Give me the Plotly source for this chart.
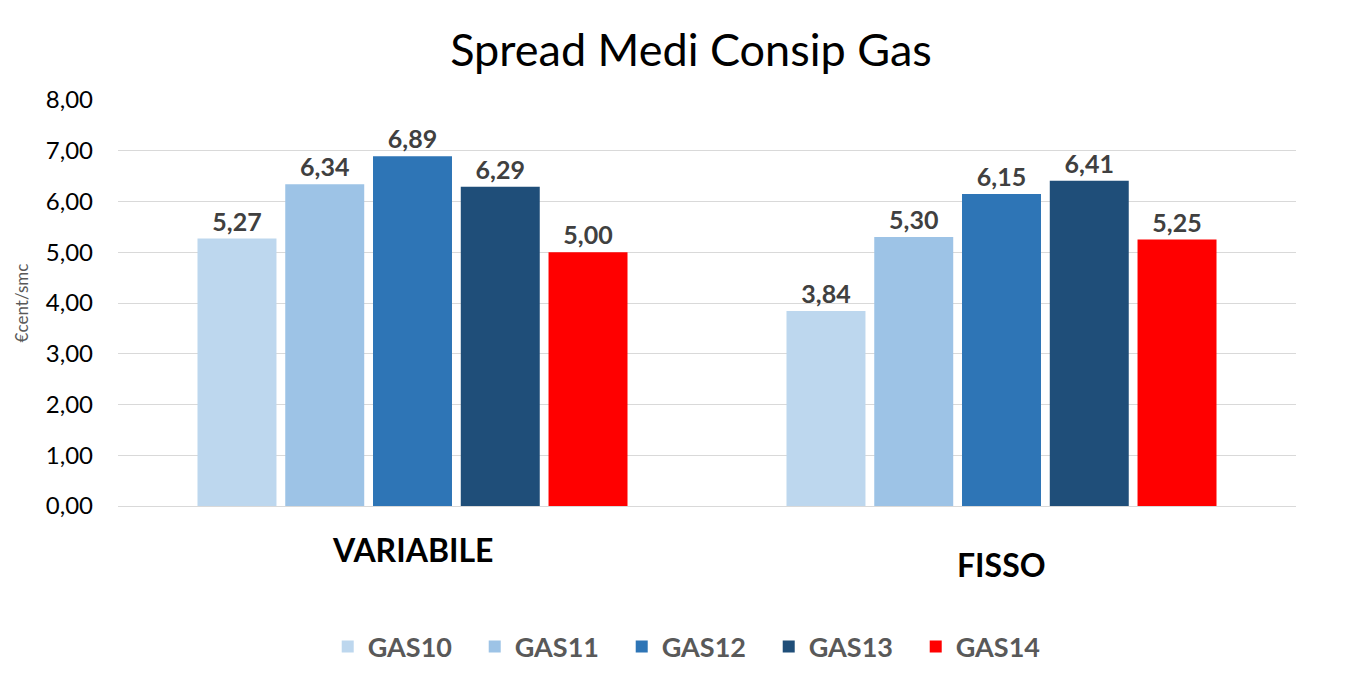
import plotly.graph_objects as go

categories = ["VARIABILE", "FISSO"]
series_names = ["GAS10", "GAS11", "GAS12", "GAS13", "GAS14"]
gas10 = [5.27, 3.84]
gas11 = [6.34, 5.30]
gas12 = [6.89, 6.15]
gas13 = [6.29, 6.41]
gas14 = [5.00, 5.25]
values = [gas10, gas11, gas12, gas13, gas14]
colors = ["#BDD7EE", "#9DC3E6", "#2E75B6", "#1F4E79", "#FF0000"]
yticks = [0, 1, 2, 3, 4, 5, 6, 7, 8]

font_family = "Lato, 'Open Sans', sans-serif"

fig = go.Figure()
for name, vals, col in zip(series_names, values, colors):
    fig.add_trace(go.Bar(
        x=categories, y=vals, name=name,
        marker=dict(color=col, line=dict(width=0)),
        text=[f"{v:.2f}".replace(".", ",") for v in vals],
        textposition="outside",
        textfont=dict(family=font_family, size=25, color="#404040", weight="bold"),
        cliponaxis=False,
    ))

label_y = [-0.108, -0.145]
annotations = []
for cat, ly in zip(categories, label_y):
    annotations.append(dict(
        x=cat, y=ly, xref="x", yref="paper", text=f"<b>{cat}</b>",
        showarrow=False, font=dict(family=font_family, size=32, color="#000000"),
        xanchor="center", yanchor="middle",
    ))

fig.update_layout(
    width=1366, height=685,
    paper_bgcolor="white", plot_bgcolor="white",
    margin=dict(l=110, r=78, t=92, b=187, autoexpand=False),
    separators=",.",
    title=dict(text="Spread Medi Consip Gas", x=0.5, xanchor="center",
               y=0.939, yanchor="middle",
               font=dict(family=font_family, size=45, color="#000000")),
    barmode="group", bargap=0.255, bargroupgap=0.1,
    showlegend=True,
    legend=dict(orientation="h", x=0.49, xanchor="center", y=-0.347, yanchor="middle",
                font=dict(family=font_family, size=27, color="#595959", weight="bold"),
                itemwidth=30, entrywidth=102, entrywidthmode="pixels",
                traceorder="normal"),
    annotations=annotations,
    font=dict(family=font_family),
)
fig.update_xaxes(showticklabels=False, showline=False, showgrid=False)
fig.update_yaxes(range=[0, 8], tickvals=yticks, tickformat=".2f",
                 showgrid=True, gridcolor="#D9D9D9", gridwidth=1,
                 zeroline=True, zerolinecolor="#D9D9D9", zerolinewidth=1,
                 tickfont=dict(family=font_family, size=24, color="#000000"),
                 ticks="", ticklabelstandoff=24,
                 title=dict(text="€cent/smc", standoff=12,
                            font=dict(family=font_family, size=17, color="#595959")))

fig.write_html("out.html")
